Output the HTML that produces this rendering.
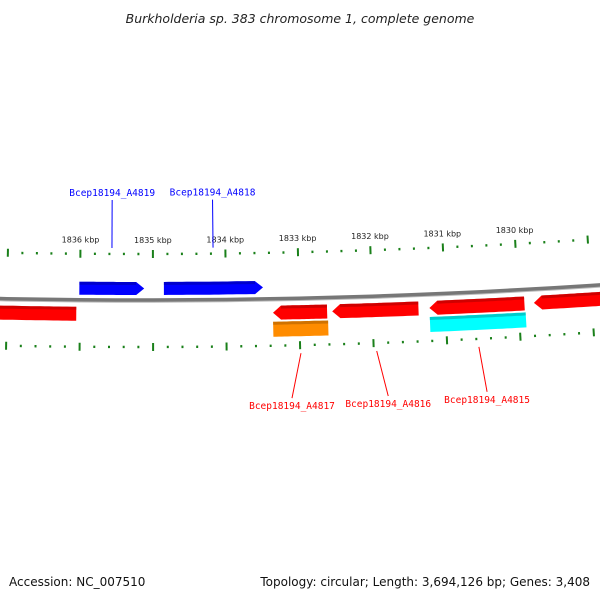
<!DOCTYPE html>
<html><head><meta charset="utf-8"><style>
body{margin:0;background:#fff}
svg{display:block;font-family:"DejaVu Sans","Liberation Sans",sans-serif}
</style></head><body>
<svg id="map" width="600" height="600" viewBox="0 0 600 600" xmlns="http://www.w3.org/2000/svg">
<text x="300" y="23" text-anchor="middle" font-size="12.5" font-style="italic" fill="#222">Burkholderia sp. 383 chromosome 1, complete genome</text>
<g id="ticks"></g>
<g id="backbone"></g>
<g id="genes"></g>
<g id="labels"></g>
<text x="9" y="586" font-size="12" fill="#111">Accession: NC_007510</text>
<text x="590" y="586" text-anchor="end" font-size="12" fill="#111">Topology: circular; Length: 3,694,126 bp; Genes: 3,408</text>
</svg>
<script>
const tickLabels=[1836,1835,1834,1833,1832,1831,1830];
const geneNames=["","Bcep18194_A4819","Bcep18194_A4818","Bcep18194_A4817","","Bcep18194_A4816","Bcep18194_A4815","",""];
const geneStart=[1837.4,1836.01,1834.85,1833.36,1833.36,1832.55,1831.22,1831.22,1829.79];
const geneEnd=[1836.05,1835.12,1833.49,1832.62,1832.61,1831.37,1829.92,1829.91,1828.7];
const geneStrand=[-1,1,1,-1,0,-1,-1,0,-1];
const geneTrack=[1,0,0,1,2,1,1,2,1];
const geneColor=["#ff0000","#0000ff","#0000ff","#ff0000","#ff8c00","#ff0000","#ff0000","#00ffff","#ff0000"];
const labelDx=[0,0,0,-10,0,10,6,0,0];

const NS="http://www.w3.org/2000/svg";
const R=7000,cx=140,cy=300-R,pxPerKbp=73;
const th0=Math.asin((80-cx)/R);
function ang(k){return th0+(1836-k)*pxPerKbp/R;}
// r > R means above the backbone (outer track)
function pt(k,r){const t=ang(k);const rr=2*R-r;return [cx+rr*Math.sin(t),cy+rr*Math.cos(t)];}
function mk(tag,attrs,parent){const e=document.createElementNS(NS,tag);for(const a in attrs)e.setAttribute(a,attrs[a]);parent.appendChild(e);return e;}
function arcPts(k1,k2,r){const a=[];const n=20;for(let i=0;i<=n;i++){a.push(pt(k1+(k2-k1)*i/n,r));}return a;}
function ps(a){return a.map(p=>p[0].toFixed(1)+","+p[1].toFixed(1)).join(" ");}

const bb=document.getElementById('backbone');
let b2=mk('polyline',{points:ps(arcPts(1838,1828,R-2)),fill:'none',stroke:'#bbb',"stroke-width":1.5},bb);


let b1=mk('polyline',{points:ps(arcPts(1838,1828,R)),fill:'none',stroke:'#777',"stroke-width":3.5},bb);



const tg=document.getElementById('ticks');
for(let k=1838;k>=1828;k-=0.2){
  const kk=Math.round(k*10)/10;
  const major=Math.abs(kk-Math.round(kk))<0.01;
  [R+46,R-47].forEach(r=>{
    const h=major?4:1.2;
    const p1=pt(kk,r-h),p2=pt(kk,r+h);
    const l=mk('line',{x1:p1[0],y1:p1[1],x2:p2[0],y2:p2[1],stroke:'#1a801a',"stroke-width":2},tg);
    
    
  });
}
tickLabels.forEach(k=>{
  const p=pt(k,R+60);
  const t=mk('text',{x:p[0],y:p[1]+3,"text-anchor":"middle","font-size":8,fill:'#222'},tg);
  t.textContent=k+" kbp";
  
  
});

const gg=document.getElementById('genes');
const trackR=[[R+5,R+18],[R-21,R-7],[R-38,R-23]];
for(let i=0;i<geneStart.length;i++){
  const [r1,r2]=trackR[geneTrack[i]];
  let s=geneStart[i],e=geneEnd[i];
  const head=8/pxPerKbp;
  let pts;
  if(geneStrand[i]===1){
    const hb=e+head;
    pts=arcPts(s,hb,r2).concat([pt(e,(r1+r2)/2)]).concat(arcPts(hb,s,r1));
  }else if(geneStrand[i]===-1){
    const hb=s-head;
    pts=arcPts(hb,e,r2).concat(arcPts(e,hb,r1)).concat([pt(s,(r1+r2)/2)]);
  }else{
    pts=arcPts(s,e,r2).concat(arcPts(e,s,r1));
  }
  const g=mk('g',{},gg);
  
  
  mk('polygon',{points:ps(pts),fill:geneColor[i]},g);
  const dk=geneColor[i]==="#0000ff"?"#0000aa":geneColor[i]==="#00ffff"?"#00a8a8":geneColor[i]==="#ff8c00"?"#b06000":"#b00000";
  const top=r2-3, s2=geneStrand[i]===-1?s-head:s, e2=geneStrand[i]===1?e+head:e;
  const band=mk('polygon',{points:ps(arcPts(s2,e2,r2).concat(arcPts(e2,s2,top))),fill:dk,opacity:0.6},g);
  
  
}

const lg=document.getElementById('labels');
for(let i=0;i<geneNames.length;i++){
  if(!geneNames[i])continue;
  const mid=(geneStart[i]+geneEnd[i])/2;
  const outer=geneStrand[i]===1;
  const col=outer?'#0000ff':'#ff0000';
  let a,b,tp;
  if(outer){a=pt(mid,R+52);b=pt(mid,R+100);tp=[b[0],b[1]-4];}
  else{a=pt(mid,R-55);const c=pt(mid,R-100);b=[c[0]+labelDx[i],c[1]];tp=[b[0],b[1]+11];}
  const l=mk('line',{x1:a[0],y1:a[1],x2:b[0],y2:b[1],stroke:col,"stroke-width":1},lg);
  
  
  const t=mk('text',{x:tp[0],y:tp[1],"text-anchor":"middle","font-size":9.5,fill:col,"font-family":"DejaVu Sans Mono, Liberation Mono, monospace"},lg);
  t.textContent=geneNames[i];
  
  
}
</script>
</body></html>
